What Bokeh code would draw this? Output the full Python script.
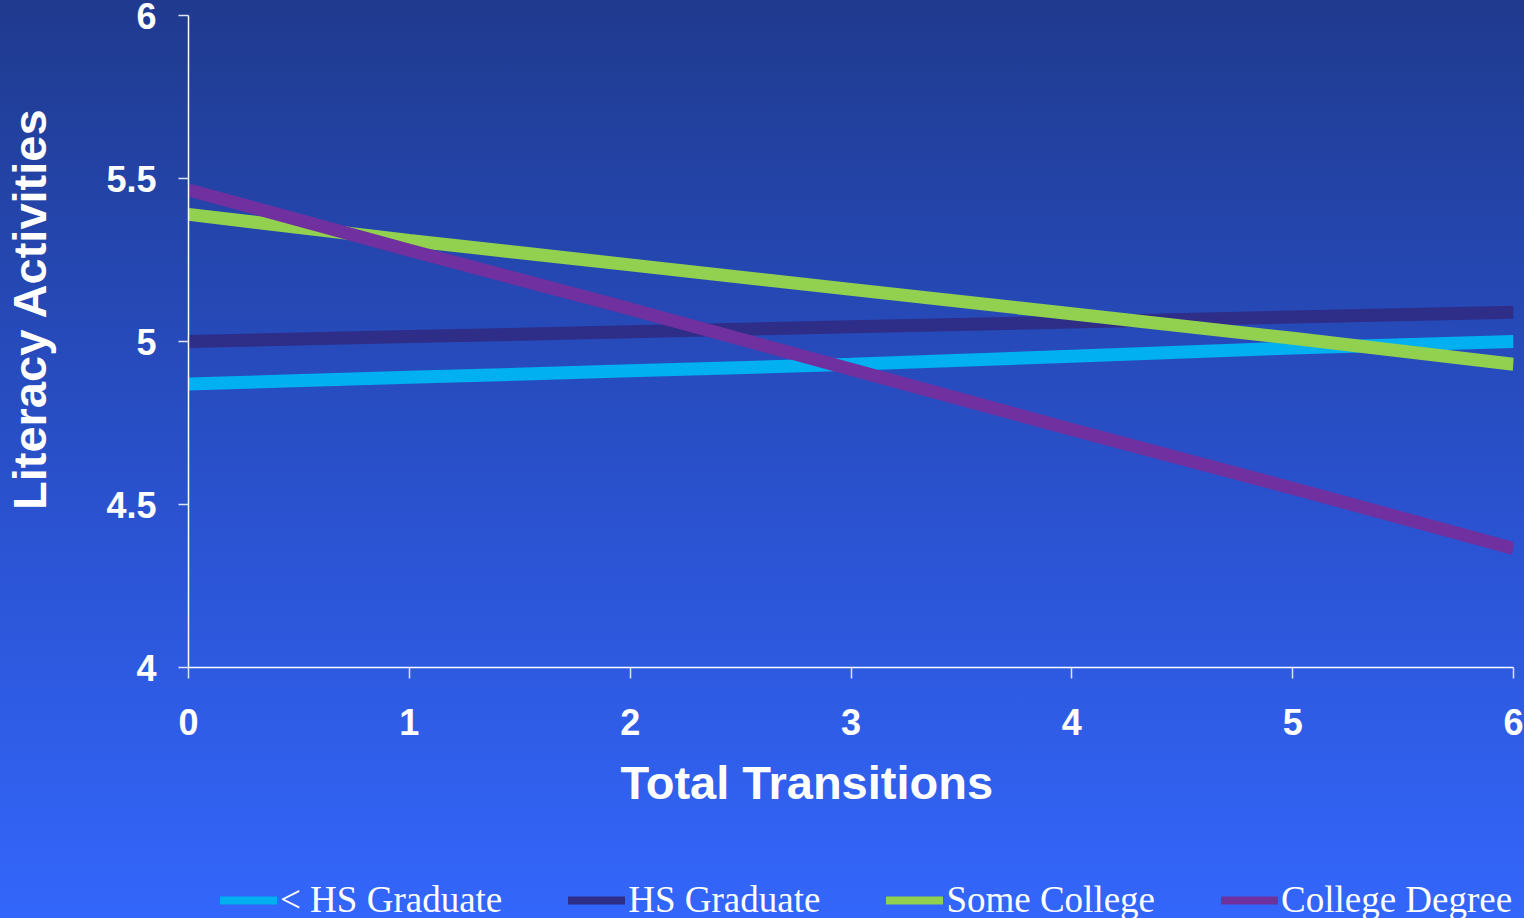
from bokeh.plotting import figure
from bokeh.layouts import column
from bokeh.models import Range1d, Legend, LegendItem, FixedTicker, ColumnDataSource, Title
from bokeh.embed import file_html
from bokeh.resources import INLINE

# ---- data ----
transitions = [0, 1, 2, 3, 4, 5, 6]
less_hs = [4.87, 4.89, 4.91, 4.93, 4.955, 4.98, 5.0]
hs_grad = [5.0, 5.015, 5.03, 5.045, 5.06, 5.075, 5.09]
some_college = [5.39, 5.31, 5.235, 5.16, 5.085, 5.01, 4.93]
college_degree = [5.465, 5.28, 5.1, 4.915, 4.73, 4.55, 4.365]
series_names = ["< HS Graduate", "HS Graduate", "Some College", "College Degree"]
series_values = [less_hs, hs_grad, some_college, college_degree]
colors = ["#00b0f0", "#2e2d88", "#92d050", "#7030a0"]
x_ticks = [0, 1, 2, 3, 4, 5, 6]
y_ticks = [4, 4.5, 5, 5.5, 6]

W = 1524
H_MAIN, H_LEG = 860, 58

p = figure(width=W, height=H_MAIN, output_backend="svg", toolbar_location=None,
           x_range=Range1d(0, 6), y_range=Range1d(4, 6),
           min_border_left=188, min_border_right=11, min_border_top=15,
           min_border_bottom=H_MAIN - 667)
p.border_fill_alpha = 0
p.background_fill_alpha = 0
p.outline_line_color = None
p.xgrid.grid_line_color = None
p.ygrid.grid_line_color = None

for ax in (p.xaxis[0], p.yaxis[0]):
    ax.axis_line_color = "#ffffff"
    ax.axis_line_width = 1.5
    ax.major_tick_line_color = "#dde3f5"
    ax.major_tick_line_width = 1.5
    ax.minor_tick_line_color = None
    ax.major_tick_in = 0
    ax.major_tick_out = 11
    ax.major_label_text_color = "#ffffff"
    ax.major_label_text_font = "Liberation Sans"
    ax.major_label_text_font_style = "bold"
    ax.major_label_text_font_size = "36px"
    ax.axis_label_text_color = "#ffffff"
    ax.axis_label_text_font = "Liberation Sans"
    ax.axis_label_text_font_style = "bold"
    ax.axis_label_text_font_size = "47px"

p.xaxis.ticker = FixedTicker(ticks=x_ticks)
p.yaxis.ticker = FixedTicker(ticks=y_ticks)
p.yaxis.major_tick_out = 10
p.xaxis.major_label_standoff = 30
p.yaxis.major_label_standoff = 22
p.yaxis.axis_label = "\u00a0" * 5 + "Literacy Activities"
p.yaxis.axis_label_standoff = 47

xlabel = Title(text="Total Transitions", align="left", offset=432, standoff=32,
               text_color="#ffffff", text_font="Liberation Sans",
               text_font_style="bold", text_font_size="47px")
p.add_layout(xlabel, "below")

for vals, col in zip(series_values, colors):
    src = ColumnDataSource(dict(x=transitions, y=vals))
    p.line("x", "y", source=src, line_color=col, line_width=13, line_cap="butt")

# legend strip (its data lies outside its 0..1 ranges, so only the legend shows)
lf = figure(width=W, height=H_LEG, output_backend="svg", toolbar_location=None,
            x_range=Range1d(0, 1), y_range=Range1d(0, 1),
            x_axis_type=None, y_axis_type=None,
            min_border=0, min_border_left=0, min_border_right=0,
            min_border_top=0, min_border_bottom=0)
lf.border_fill_alpha = 0
lf.background_fill_alpha = 0
lf.outline_line_color = None
lf.xgrid.grid_line_color = None
lf.ygrid.grid_line_color = None

items = []
for name, vals, col in zip(series_names, series_values, colors):
    proxy = lf.line(x=transitions, y=vals, line_color=col, line_width=8, line_cap="round")
    items.append(LegendItem(label=name, renderers=[proxy]))

legend = Legend(items=items, orientation="horizontal", location=(32, -3),
                glyph_width=57, glyph_height=20, label_standoff=3, spacing=66,
                padding=0, margin=0, border_line_color=None,
                background_fill_alpha=0,
                label_text_font="Liberation Serif", label_text_font_size="37px",
                label_text_color="#ffffff")
lf.add_layout(legend, "center")

layout = column(p, lf, spacing=0)
layout.styles = {"background": "linear-gradient(to bottom, #1f3a8e 0%, #2a52cf 55%, #3366fb 100%)"}

open("out.html", "w").write(file_html(layout, INLINE))
